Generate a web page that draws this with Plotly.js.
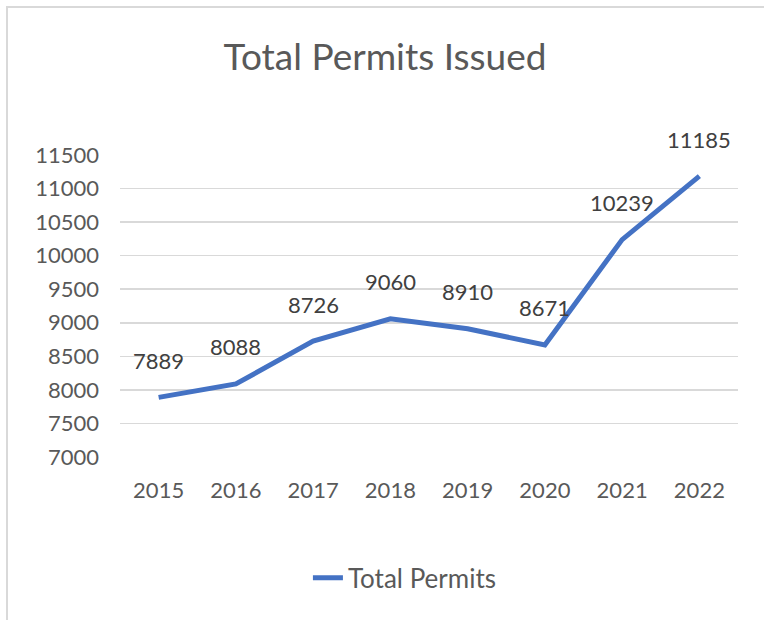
<!DOCTYPE html>
<html>
<head>
<meta charset="utf-8">
<script src="https://cdn.plot.ly/plotly-3.0.1.min.js"></script>
<style>
  html, body { margin: 0; padding: 0; background: #fff; overflow: hidden; }
  #chart { width: 764px; height: 620px; }
  #frame { position: absolute; left: 6px; top: 6px; width: 820px; height: 700px;
           border-left: 2px solid #D9D9D9; border-top: 2px solid #D9D9D9; pointer-events: none; }
</style>
</head>
<body>
<div id="chart"></div>
<div id="frame"></div>
<script>
const years = ['2015', '2016', '2017', '2018', '2019', '2020', '2021', '2022'];
const permits = [7889, 8088, 8726, 9060, 8910, 8671, 10239, 11185];
const yTicks = [7000, 7500, 8000, 8500, 9000, 9500, 10000, 10500, 11000, 11500];
const seriesName = 'Total Permits';
const chartTitle = 'Total Permits Issued';

const FONT = 'Lato, "Open Sans", sans-serif';

const trace = {
  x: years,
  y: permits,
  type: 'scatter',
  mode: 'lines',
  name: seriesName,
  line: { color: '#4472C4', width: 5 },
  hoverinfo: 'skip'
};

// annotation x uses the category index so '2015' is not read as index 2015
const annotations = years.map((yr, i) => ({
  x: i, y: permits[i], xref: 'x', yref: 'y',
  text: String(permits[i]), showarrow: false,
  yshift: 37, font: { family: FONT, size: 22, color: '#404040' }
}));

const layout = {
  width: 764, height: 620,
  margin: { l: 120, r: 26, t: 155, b: 163 },
  paper_bgcolor: '#ffffff', plot_bgcolor: '#ffffff',
  font: { family: FONT, color: '#595959' },
  title: { text: chartTitle, x: 0.504, xanchor: 'center', y: 0.908, yanchor: 'middle',
           font: { family: FONT, size: 37, color: '#595959' } },
  xaxis: {
    type: 'category', range: [-0.5, years.length - 0.5], autorange: false,
    showgrid: false, zeroline: false, showline: false,
    ticks: '', tickfont: { family: FONT, size: 22, color: '#595959' },
    ticklabelstandoff: 18
  },
  yaxis: {
    range: [7000, 11500], autorange: false, tickvals: yTicks, ticktext: yTicks.map(String),
    showgrid: true, gridcolor: '#D9D9D9', gridwidth: 1.5, zeroline: false, showline: false,
    ticks: '', tickfont: { family: FONT, size: 22, color: '#595959' },
    ticklabelstandoff: 20
  },
  showlegend: true,
  legend: {
    orientation: 'h', xref: 'container', yref: 'container',
    x: 0.53, xanchor: 'center', y: 0.068, yanchor: 'middle',
    font: { family: FONT, size: 26, color: '#595959' }
  },
  annotations: annotations
};

Plotly.newPlot('chart', [trace], layout, { displayModeBar: false, staticPlot: true });
</script>
</body>
</html>
